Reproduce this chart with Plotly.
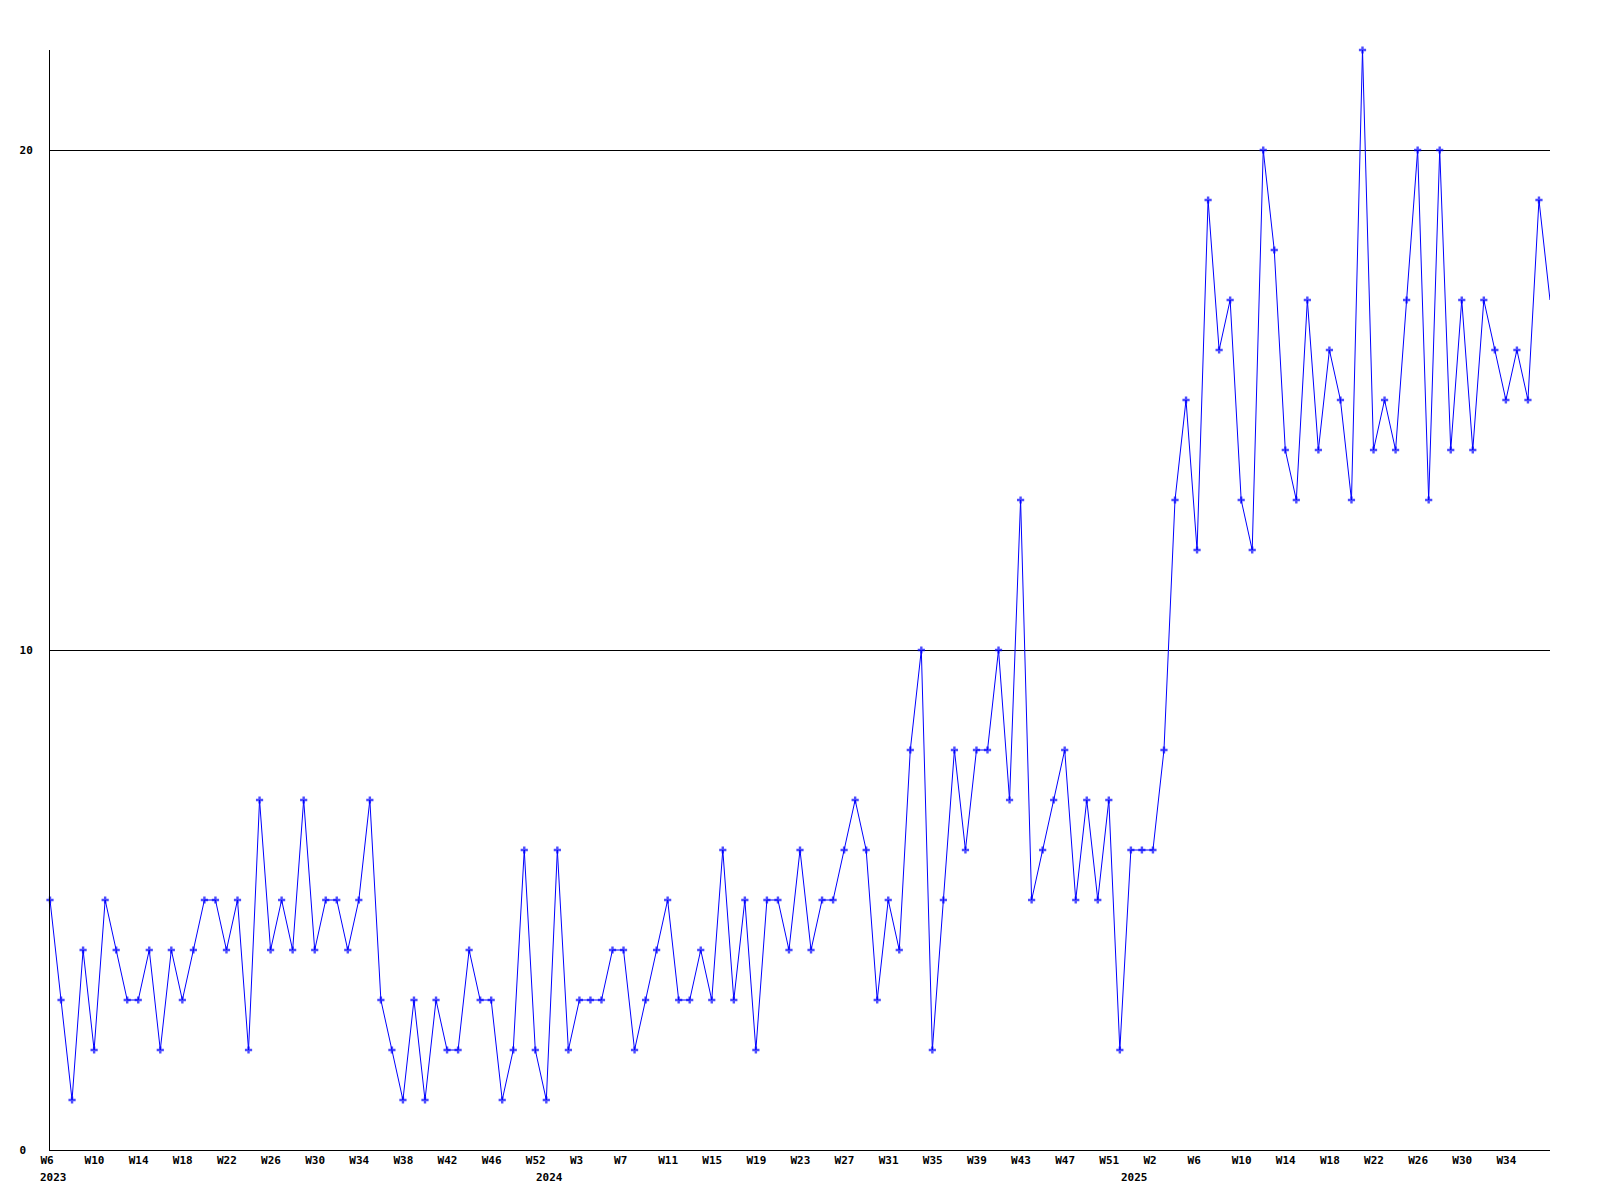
import plotly.graph_objects as go

# Weekly counts, 2023 W6 onward
values = [5, 3, 1, 4, 2, 5, 4, 3, 3, 4,
          2, 4, 3, 4, 5, 5, 4, 5, 2, 7,
          4, 5, 4, 7, 4, 5, 5, 4, 5, 7,
          3, 2, 1, 3, 1, 3, 2, 2, 4, 3,
          3, 1, 2, 6, 2, 1, 6, 2, 3, 3,
          3, 4, 4, 2, 3, 4, 5, 3, 3, 4,
          3, 6, 3, 5, 2, 5, 5, 4, 6, 4,
          5, 5, 6, 7, 6, 3, 5, 4, 8, 10,
          2, 5, 8, 6, 8, 8, 10, 7, 13, 5,
          6, 7, 8, 5, 7, 5, 7, 2, 6, 6,
          6, 8, 13, 15, 12, 19, 16, 17, 13, 12,
          20, 18, 14, 13, 17, 14, 16, 15, 13, 22,
          14, 15, 14, 17, 20, 13, 20, 14, 17, 14,
          17, 16, 15, 16, 15, 19, 17]

week_ticks = ["W6", "W10", "W14", "W18", "W22", "W26", "W30", "W34", "W38", "W42", "W46", "W52",
              "W3", "W7", "W11", "W15", "W19", "W23", "W27", "W31", "W35", "W39", "W43", "W47", "W51",
              "W2", "W6", "W10", "W14", "W18", "W22", "W26", "W30", "W34"]
year_labels = ["2023", "2024", "2025"]
year_positions = [0, 45, 98]

y_tick_vals = [0, 10, 20]
y_tick_text = ["0\u00a0", "10", "20"]

n = len(values)
xs = list(range(n))
tick_step = 4
tickvals = [i * tick_step for i in range(len(week_ticks))]

FONT = "DejaVu Sans Mono"
marker_sizes = [6] * (n - 1) + [0]

fig = go.Figure()
fig.add_trace(go.Scatter(
    x=xs, y=values, mode="lines+markers",
    line=dict(color="#0000ff", width=1),
    marker=dict(symbol="cross", size=marker_sizes, color="#0000ff",
                line=dict(width=0)),
    cliponaxis=False, showlegend=False, hoverinfo="x+y",
))

for lab, pos in zip(year_labels, year_positions):
    fig.add_annotation(x=pos, y=0, xref="x", yref="paper", text=lab,
                       showarrow=False, xanchor="left", yanchor="middle",
                       xshift=-11, yshift=-27, borderpad=0,
                       font=dict(family=FONT, size=11, color="black", weight="bold"))

fig.update_layout(
    width=1584, height=1184,
    margin=dict(l=42, r=42, t=42, b=42, pad=0),
    paper_bgcolor="white", plot_bgcolor="white",
    font=dict(family=FONT, size=11, color="black"),
    xaxis=dict(range=[0, n - 1], tickmode="array", tickvals=tickvals, ticktext=week_ticks,
               showgrid=False, zeroline=False, showline=True, linecolor="black", linewidth=1,
               ticks="", ticklabelposition="outside right", ticklabelshift=-10,
               tickfont=dict(family=FONT, size=11, color="black", weight="bold")),
    yaxis=dict(range=[0, 22], tickmode="array", tickvals=y_tick_vals, ticktext=y_tick_text,
               showgrid=True, gridcolor="black", gridwidth=1, zeroline=False,
               showline=True, linecolor="black", linewidth=1, ticks="",
               ticklabelstandoff=14,
               tickfont=dict(family=FONT, size=11, color="black", weight="bold")),
)

fig.write_html("out.html")
